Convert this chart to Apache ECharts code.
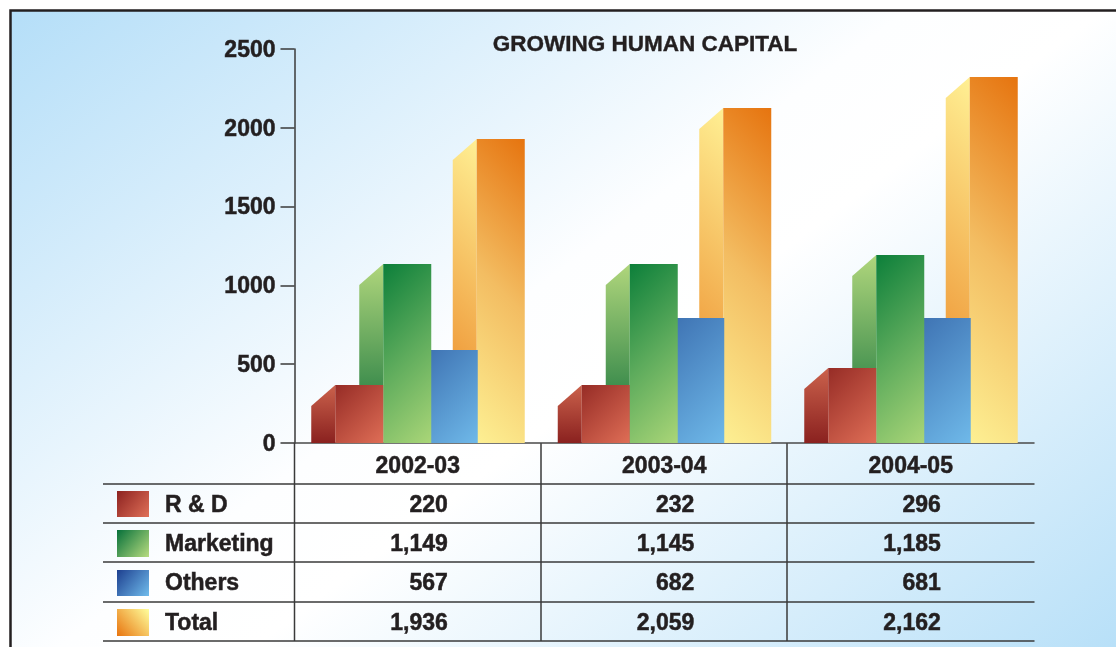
<!DOCTYPE html>
<html>
<head>
<meta charset="utf-8">
<title>Growing Human Capital</title>
<style>
  html, body { margin: 0; padding: 0; background: #fff; }
  #main { width: 1116px; height: 647px; }
</style>
<script src="https://cdn.jsdelivr.net/npm/echarts@6/dist/echarts.min.js"></script>
</head>
<body>
<div id="main"></div>
<script>
// bar heights as drawn in the picture (they do not quite follow the table)
var years = ['2002-03', '2003-04', '2004-05'];
var barRD = [368, 368, 476];
var barMarketing = [1136, 1136, 1193];
var barOthers = [590, 793, 793];
var barTotal = [1929, 2126, 2322];

// table text
var rowNames = ['R & D', 'Marketing', 'Others', 'Total'];
var tableRD = ['220', '232', '296'];
var tableMarketing = ['1,149', '1,145', '1,185'];
var tableOthers = ['567', '682', '681'];
var tableTotal = ['1,936', '2,059', '2,162'];

var textColor = '#231f20';
var ruleColor = '#3a3a3a';
var boldFont = 'bold 23px "Liberation Sans"';

function stopsOf(colors) {
  return colors.map(function (c) { return { offset: c[0], color: c[1] }; });
}

// corner to corner gradient
function grad(x0, y0, x1, y1, colors) {
  return new echarts.graphic.LinearGradient(x0, y0, x1, y1, stopsOf(colors));
}

// 45 degree gradient in pixels, so tall thin bars still get diagonal shading
// dir 1 starts top left, dir -1 starts top right
function diag(w, h, dir, colors) {
  var d = (w + h) / 2;
  var x0 = dir > 0 ? 0 : 1;
  return grad(x0, 0, x0 + dir * d / w, d / h, colors);
}

var BAR_W = 48;   // front face width
var DEPTH_X = 24; // side face width
var DEPTH_Y = 21; // side face drop at the back edge

// one 3d bar: left side face plus front face
function barSeries(name, values, offset, dir, front, side, z) {
  return {
    name: name,
    type: 'custom',
    z: z,
    xAxisIndex: 0,
    yAxisIndex: 0,
    silent: true,
    data: values.map(function (v, i) { return [i, v]; }),
    renderItem: function (params, api) {
      var top = api.coord([api.value(0), api.value(1)]);
      var base = api.coord([api.value(0), 0]);
      var x = top[0] + offset;
      var h = base[1] - top[1];
      return {
        type: 'group',
        children: [{
          type: 'polygon',
          shape: { points: [[x, top[1]], [x, base[1]], [x - DEPTH_X, base[1]], [x - DEPTH_X, top[1] + DEPTH_Y]] },
          style: { fill: side.diagonal ? diag(DEPTH_X, h, dir, side.colors) : grad(0, 0, 0, 1, side.colors) }
        }, {
          type: 'rect',
          shape: { x: x, y: top[1], width: BAR_W, height: h },
          style: { fill: diag(BAR_W, h, dir, front) }
        }]
      };
    }
  };
}

// table values sit on a second hidden grid, right aligned like the original
function rowSeries(texts, row) {
  return {
    type: 'custom',
    xAxisIndex: 1,
    yAxisIndex: 1,
    silent: true,
    data: texts.map(function (t, i) { return [i, row]; }),
    renderItem: function (params, api) {
      var p = api.coord([api.value(0), api.value(1)]);
      return {
        type: 'text',
        x: p[0] + 30,
        y: p[1] + 2,
        style: {
          text: texts[params.dataIndex],
          font: boldFont,
          fill: textColor,
          stroke: textColor,
          lineWidth: 0.5,
          align: 'right',
          verticalAlign: 'middle'
        }
      };
    }
  };
}

var tableY = [484, 523, 562, 602, 641];
var columnX = [294.5, 541, 787];
var swatchY = [491, 530, 570, 609];
var swatchH = [26, 27, 26, 27];
var swatchFill = [
  grad(0, 0, 1, 1, [[0, '#8c2220'], [1, '#e07058']]),
  grad(0, 0, 1, 1, [[0, '#06703a'], [1, '#b8dc80']]),
  grad(0, 0, 1, 1, [[0, '#1d3f8f'], [1, '#70bcec']]),
  grad(0, 1, 1, 0, [[0, '#e8740f'], [1, '#ffff9c']])
];

var elements = [{
  type: 'rect',
  z: -2,
  shape: { x: 10.5, y: 10.5, width: 1300, height: 800 },
  style: {
    fill: grad(0, 0, 0.54, 1.17, [[0, '#b4def8'], [0.46, '#fdfeff'], [0.56, '#ffffff'], [1, '#b8e0f8']]),
    stroke: '#231f20',
    lineWidth: 2.5
  }
}, {
  type: 'text',
  x: 645,
  y: 44.5,
  style: {
    text: 'GROWING HUMAN CAPITAL',
    font: 'bold 22.5px "Liberation Sans"',
    fill: textColor,
    stroke: textColor,
    lineWidth: 0.4,
    align: 'center',
    verticalAlign: 'middle'
  }
}];

tableY.forEach(function (y) {
  elements.push({
    type: 'line',
    shape: { x1: 103, y1: y, x2: 1034.5, y2: y },
    style: { stroke: ruleColor, lineWidth: 1.5 }
  });
});
columnX.forEach(function (x) {
  elements.push({
    type: 'line',
    shape: { x1: x, y1: 443, x2: x, y2: 641 },
    style: { stroke: ruleColor, lineWidth: 1.5 }
  });
});
rowNames.forEach(function (name, i) {
  elements.push({
    type: 'rect',
    shape: { x: 117, y: swatchY[i], width: 32, height: swatchH[i] },
    style: { fill: swatchFill[i] }
  });
  elements.push({
    type: 'text',
    x: 165,
    y: (tableY[i] + tableY[i + 1]) / 2 + 2,
    style: { text: name, font: boldFont, fill: textColor, stroke: textColor, lineWidth: 0.5, align: 'left', verticalAlign: 'middle' }
  });
});

var option = {
  animation: false,
  grid: [
    { left: 294.5, width: 739.5, top: 49, height: 394 },
    { left: 294.5, width: 739.5, top: 484, height: 157 }
  ],
  xAxis: [{
    type: 'category',
    data: years,
    gridIndex: 0,
    axisLine: { lineStyle: { color: '#4a4a4a', width: 1.5 } },
    axisTick: { show: false },
    axisLabel: {
      color: textColor, fontFamily: 'Liberation Sans', fontWeight: 'bold', fontSize: 23, margin: 12,
      textBorderColor: textColor, textBorderWidth: 0.5
    }
  }, {
    type: 'category',
    data: years,
    gridIndex: 1,
    show: false
  }],
  yAxis: [{
    type: 'value',
    gridIndex: 0,
    min: 0,
    max: 2500,
    interval: 500,
    splitLine: { show: false },
    axisLine: { show: true, lineStyle: { color: ruleColor, width: 1.5 } },
    axisTick: { show: true, length: 14, lineStyle: { color: ruleColor, width: 1.5 } },
    axisLabel: {
      color: textColor, fontFamily: 'Liberation Sans', fontWeight: 'bold', fontSize: 23, margin: 19,
      verticalAlign: 'top',
      lineHeight: 3,
      textBorderColor: textColor, textBorderWidth: 0.5,
      formatter: function (v) { return String(v); }
    }
  }, {
    type: 'category',
    data: rowNames,
    inverse: true,
    gridIndex: 1,
    show: false
  }],
  series: [
    barSeries('Total', barTotal, 59, -1,
      [[0, '#e6740f'], [0.5, '#f3bd62'], [1, '#fdf093']],
      { diagonal: true, colors: [[0, '#fff094'], [0.72, '#f0a040'], [1, '#f0a040']] }, 2),
    barSeries('Others', barOthers, 12, 1,
      [[0, '#3f74b4'], [1, '#6fb9e9']],
      { colors: [[0, '#3f74b4'], [1, '#3f74b4']] }, 3),
    barSeries('Marketing', barMarketing, -34.5, 1,
      [[0, '#0c7f3a'], [0.5, '#5dab5c'], [1, '#aad678']],
      { colors: [[0, '#b0d67c'], [0.8, '#2c8246'], [1, '#2c8246']] }, 4),
    barSeries('R & D', barRD, -82.5, 1,
      [[0, '#962c26'], [1, '#df6e56']],
      { colors: [[0, '#cb624c'], [1, '#8a211f']] }, 5),
    rowSeries(tableRD, 0),
    rowSeries(tableMarketing, 1),
    rowSeries(tableOthers, 2),
    rowSeries(tableTotal, 3)
  ],
  graphic: { elements: elements }
};

var myChart = echarts.init(document.getElementById('main'));
myChart.setOption(option);
</script>
</body>
</html>
